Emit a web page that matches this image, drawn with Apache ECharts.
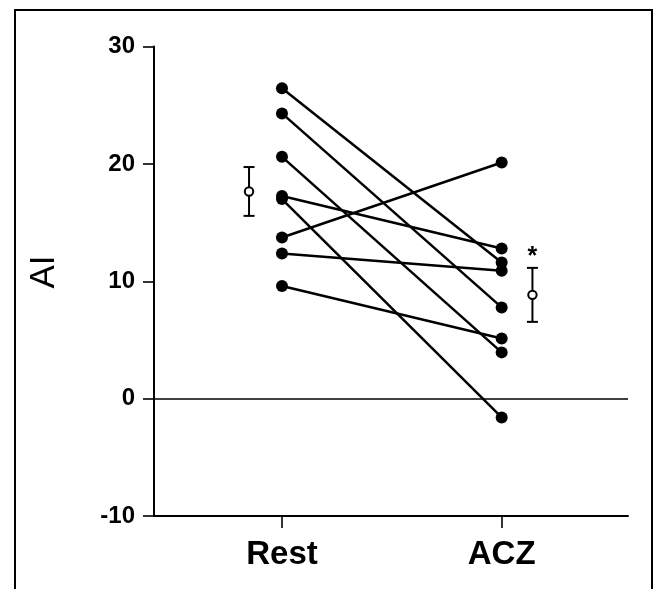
<!DOCTYPE html>
<html>
<head>
<meta charset="utf-8">
<script src="https://cdn.jsdelivr.net/npm/echarts@6/dist/echarts.min.js"></script>
<style>
html,body{margin:0;padding:0;background:#fff;}
#chart{width:656px;height:589px;}
</style>
</head>
<body>
<div id="chart"></div>
<script>
var categories = ['Rest', 'ACZ'];
var restValues = [26.45, 24.3, 20.6, 17.27, 17.0, 13.73, 12.37, 9.6];
var aczValues  = [11.6, 7.77, 3.94, 12.79, -1.6, 20.12, 10.89, 5.13];
var meanPositions = [0.85, 2.14];
var meanValues = [17.65, 8.84];
var semValues = [2.08, 2.3];
var significance = ['', '*'];
var yTicks = [-10, 0, 10, 20, 30];
var yAxisName = 'AI';

var FONT = '"Liberation Sans", Arial, Helvetica, sans-serif';
var chart = echarts.init(document.getElementById('chart'), null, {renderer: 'canvas'});

var series = [];
for (var i = 0; i < restValues.length; i++) {
  series.push({
    type: 'line',
    data: [[1, restValues[i]], [2, aczValues[i]]],
    symbol: 'circle',
    symbolSize: 12,
    itemStyle: {color: '#000'},
    lineStyle: {color: '#000', width: 2.5},
    z: 3,
    silent: true,
    animation: false
  });
}
series[0].markLine = {
  silent: true,
  symbol: ['none', 'none'],
  label: {show: false},
  lineStyle: {color: '#000', width: 1.6, type: 'solid'},
  data: [{yAxis: 0}],
  animation: false
};

var meanData = meanValues.map(function (m, k) {
  return [meanPositions[k], m, m + semValues[k], m - semValues[k], k];
});

series.push({
  type: 'custom',
  data: meanData,
  z: 5,
  animation: false,
  renderItem: function (params, api) {
    var x = api.value(0);
    var c = api.coord([x, api.value(1)]);
    var hi = api.coord([x, api.value(2)]);
    var lo = api.coord([x, api.value(3)]);
    var k = api.value(4);
    var capW = 5.5;
    var st = {stroke: '#000', lineWidth: 2};
    var children = [
      {type: 'line', shape: {x1: hi[0], y1: hi[1], x2: lo[0], y2: lo[1]}, style: st},
      {type: 'line', shape: {x1: hi[0] - capW, y1: hi[1], x2: hi[0] + capW, y2: hi[1]}, style: st},
      {type: 'line', shape: {x1: lo[0] - capW, y1: lo[1], x2: lo[0] + capW, y2: lo[1]}, style: st},
      {type: 'circle', shape: {cx: c[0], cy: c[1], r: 4.2}, style: {fill: '#fff', stroke: '#000', lineWidth: 2}}
    ];
    if (significance[k]) {
      children.push({
        type: 'text',
        style: {
          text: significance[k],
          x: hi[0], y: hi[1] + 2,
          align: 'center', verticalAlign: 'bottom',
          font: 'bold 25px ' + FONT,
          fill: '#000'
        }
      });
    }
    return {type: 'group', children: children};
  }
});

chart.setOption({
  animation: false,
  backgroundColor: '#fff',
  grid: {left: 154, right: 28, top: 46.5, bottom: 73},
  xAxis: {
    type: 'value',
    min: 0.4174,
    max: 2.575,
    axisLine: {show: true, onZero: false, lineStyle: {color: '#000', width: 2}},
    axisTick: {show: true, customValues: [1, 2], length: 12, lineStyle: {color: '#000', width: 1.6}},
    axisLabel: {
      show: true,
      customValues: [1, 2],
      margin: 22,
      color: '#000',
      fontFamily: FONT,
      fontSize: 33,
      fontWeight: 'bold',
      formatter: function (v) { return categories[Math.round(v) - 1] || ''; }
    },
    splitLine: {show: false}
  },
  yAxis: {
    type: 'value',
    min: yTicks[0],
    max: yTicks[yTicks.length - 1],
    interval: 10,
    axisLine: {show: true, onZero: false, lineStyle: {color: '#000', width: 2}},
    axisTick: {show: true, length: 11, lineStyle: {color: '#000', width: 1.6}},
    axisLabel: {
      margin: 19,
      color: '#000',
      fontFamily: FONT,
      fontSize: 24,
      fontWeight: 'bold'
    },
    splitLine: {show: false}
  },
  graphic: [
    {
      type: 'rect',
      shape: {x: 15, y: 10, width: 637, height: 640},
      style: {fill: 'none', stroke: '#000', lineWidth: 2},
      silent: true
    },
    {
      type: 'text',
      x: 44, y: 272,
      rotation: Math.PI / 2,
      style: {
        text: yAxisName,
        align: 'center', verticalAlign: 'middle',
        font: '35px ' + FONT,
        fill: '#000'
      },
      silent: true
    }
  ],
  series: series
});
</script>
</body>
</html>
